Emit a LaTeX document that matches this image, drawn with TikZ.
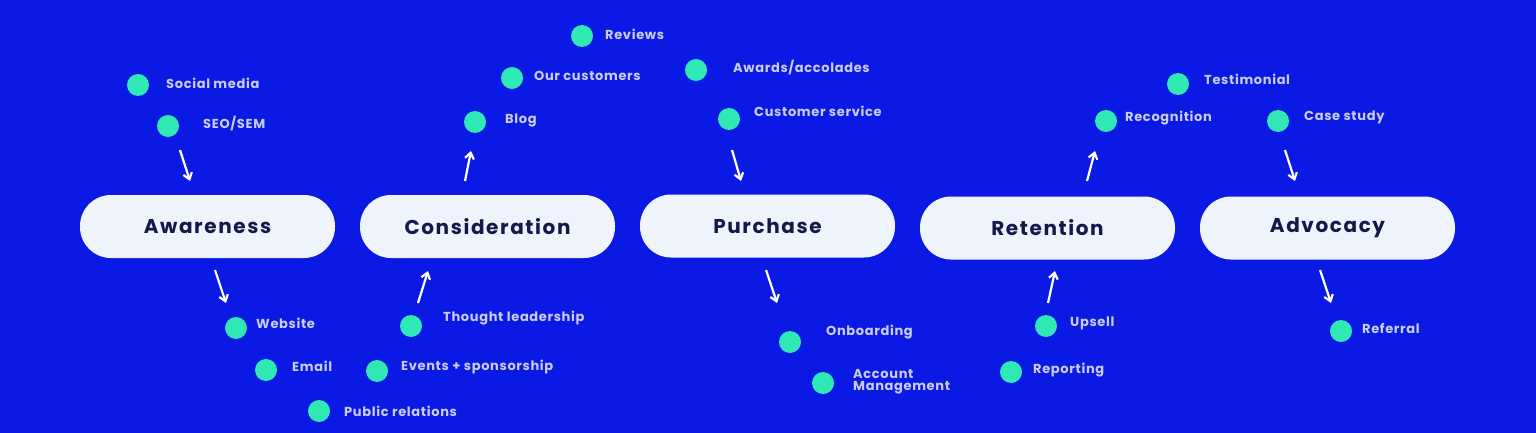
\documentclass[tikz,border=0pt]{standalone}
\usepackage{fontspec}
\setmainfont{Poppins}
\newfontfamily\pillfont{Poppins}[LetterSpace=8]
\newfontfamily\labfont{Poppins}[LetterSpace=5]
\usetikzlibrary{arrows.meta}
\definecolor{bg}{HTML}{0A1AE4}
\definecolor{dotc}{HTML}{30E8B4}
\definecolor{labc}{HTML}{C9CDF6}
\definecolor{pillc}{HTML}{EEF3FC}
\definecolor{navy}{HTML}{16184A}
\tikzset{
 pill/.style={fill=pillc,rounded corners=31pt,minimum width=255pt,minimum height=63pt,inner sep=0pt,font=\pillfont\fontsize{20}{22}\selectfont\bfseries,text=navy},
 dotn/.style={circle,fill=dotc,minimum size=22pt,inner sep=0pt},
 lab/.style={anchor=west,text=labc,font=\labfont\fontsize{13}{15}\selectfont\bfseries,inner sep=0pt,align=left},
 arr/.style={draw=white,line width=2.2pt,-{Straight Barb[length=6pt,width=9pt,line width=2.2pt]}}
}
\begin{document}
\begin{tikzpicture}[x=1pt,y=-1pt]
\fill[bg] (0,0) rectangle (1536,433);
\useasboundingbox (0,0) rectangle (1536,433);
\node[pill] (aw) at (207.5,226.5) {Awareness};
\node[pill] (co) at (487.5,226.5) {Consideration};
\node[pill] (pu) at (767.5,226) {Purchase};
\node[pill] (re) at (1047.5,228) {Retention};
\node[pill] (ad) at (1327.5,228) {Advocacy};
\foreach \n/\x/\y/\lx/\ly/\t in {
 d1/138/85/166/83/{Social media},
 d2/168/126/203/124/{SEO/SEM},
 d3/236/328/256/323/{Website},
 d4/266/370/292/366/{Email},
 d5/319/411/344/411/{Public relations},
 d6/411/326/443/318/{Thought leadership},
 d7/377/371/401/367/{Events + sponsorship},
 d8/475/122/505/120/{Blog},
 d9/512/78/534/76/{Our customers},
 d10/582/36/605/34/{Reviews},
 d11/696/70/733/68/{Awards/accolades},
 d12/729/119/754/111/{Customer service},
 d13/790/342/826/332/{Onboarding},
 d15/1046/326/1070/323/{Upsell},
 d16/1011/372/1033/370/{Reporting},
 d17/1106/121/1125/118/{Recognition},
 d18/1178/84/1204/79/{Testimonial},
 d19/1278/121/1304/117/{Case study},
 d20/1341/331/1362/328/{Referral}}{
 \node[dotn] (\n) at (\x,\y) {};
 \node[lab] (\n t) at (\lx,\ly) {\t};
}
\node[dotn] (d14) at (823,383) {};
\node[lab] (d14t) at (853,382) {Account\\[-3pt]Management};
\foreach \i/\ax/\ay/\bx/\by in {1/180/150/190/181, 2/465/181/471/151, 3/215/270/226/303, 4/418/303/428/271,
 5/732/150/741/181, 6/766/270/777/303, 7/1087/181/1095/151, 8/1048/303/1055/271, 9/1285/150/1295/181, 10/1320/270/1331/303}{
 \coordinate (s\i) at (\ax,\ay); \coordinate (e\i) at (\bx,\by);
 \draw[arr] (s\i) -- (e\i);
}
\end{tikzpicture}
\end{document}
